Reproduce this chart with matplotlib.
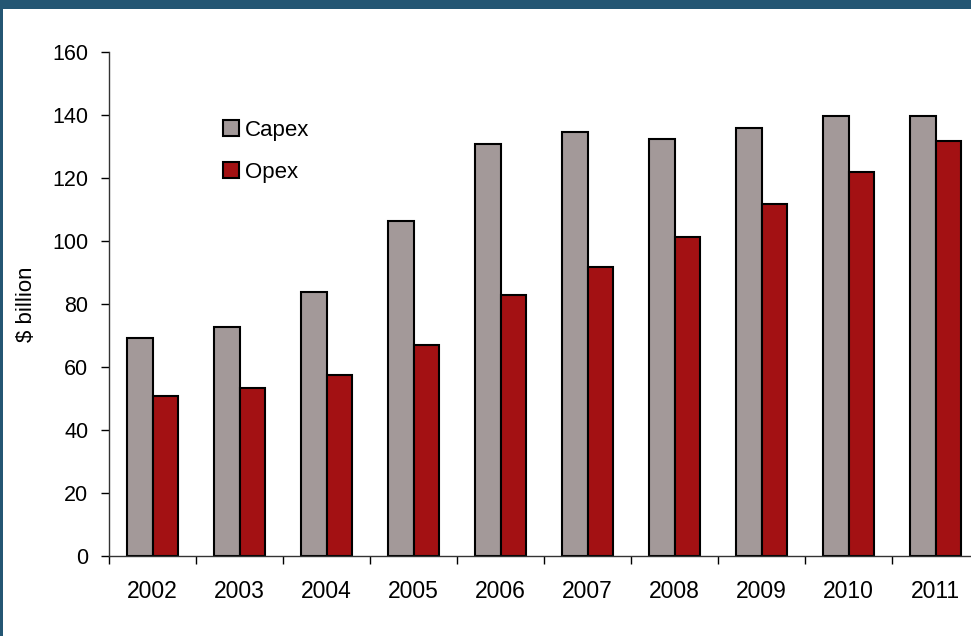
import numpy as np
import matplotlib
matplotlib.use("Agg")
import matplotlib.pyplot as plt
from matplotlib.patches import Rectangle
from matplotlib.ticker import FixedLocator

plt.rcParams['font.family'] = ['Liberation Sans', 'DejaVu Sans']

# --- data -------------------------------------------------------------------
years = ["2002", "2003", "2004", "2005", "2006", "2007", "2008", "2009", "2010", "2011"]
capex = [69.2, 72.7, 83.8, 106.3, 130.8, 134.6, 132.4, 135.9, 139.8, 139.8]
opex  = [50.8, 53.3, 57.5, 67.0, 82.9, 91.7, 101.3, 111.7, 122.0, 131.7]
yticks = [0, 20, 40, 60, 80, 100, 120, 140, 160]

COL_CAPEX = "#a39999"
COL_OPEX  = "#a31113"
BORDER    = "#245673"

W, H = 971, 636
fig = plt.figure(figsize=(W/100, H/100), dpi=100, facecolor=BORDER)
# white panel inside the dark-blue slide border (top ~9 px, left ~3 px)
fig.patches.append(Rectangle((3/W, 0), 1, (H-9)/H, transform=fig.transFigure,
                             facecolor="white", edgecolor="none", zorder=-5))

ax = fig.add_axes([109/W, 1-556/H, 870/W, 504/H])
ax.set_facecolor("none")

x = np.arange(len(years))
bw = 0.29
ax.bar(x - bw/2, capex, bw, color=COL_CAPEX, edgecolor="black", lw=1.5, label="Capex")
ax.bar(x + bw/2, opex, bw, color=COL_OPEX, edgecolor="black", lw=1.5, label="Opex")

ax.set_xlim(-0.5, len(years) - 0.5)
ax.set_ylim(0, 160)
ax.set_yticks(yticks)
ax.set_xticks(x)
ax.set_xticklabels(years)
ax.xaxis.set_minor_locator(FixedLocator(np.arange(len(years)) - 0.5))
ax.tick_params(axis="x", which="major", length=0, pad=17, labelsize=16.5)
ax.tick_params(axis="x", which="minor", length=6, width=1.0, direction="out")
ax.tick_params(axis="y", length=6, width=1.0, direction="out", pad=9, labelsize=15.5)

for s in ("top", "right"):
    ax.spines[s].set_visible(False)
for s in ("left", "bottom"):
    ax.spines[s].set_linewidth(1.0)
    ax.spines[s].set_color("#333333")

ax.set_ylabel("$ billion", fontsize=16, labelpad=11)

ax.legend(loc="upper left", bbox_to_anchor=(0.131, 0.865), frameon=False,
          fontsize=16, handlelength=0.7, handleheight=0.7, handletextpad=0.3,
          labelspacing=0.93, borderaxespad=0, borderpad=0)

fig.savefig("out.png", dpi=100, facecolor=fig.get_facecolor())
